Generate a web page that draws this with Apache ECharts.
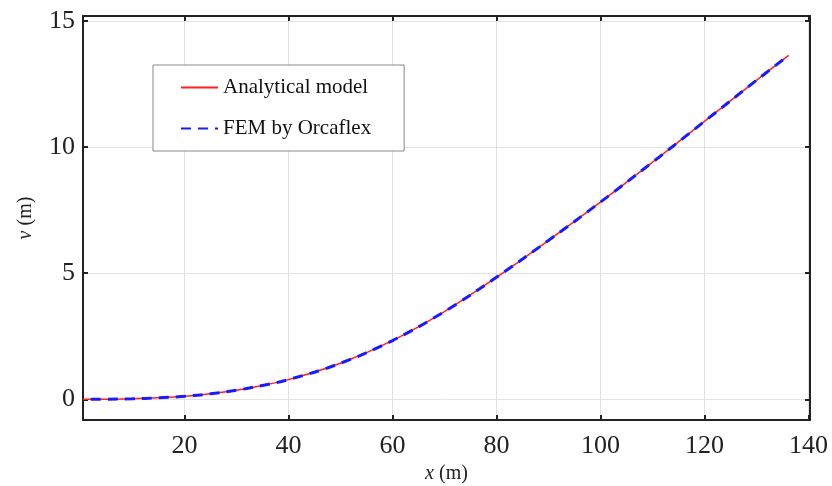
<!DOCTYPE html>
<html>
<head>
<meta charset="utf-8">
<script src="https://cdn.jsdelivr.net/npm/echarts@6/dist/echarts.min.js"></script>
<style>
  html,body{margin:0;padding:0;background:#fff;}
  #main{width:832px;height:486px;}
</style>
</head>
<body>
<div id="main"></div>
<script>
// values
let xAnalytical = [0.5, 5, 10, 15, 20, 25, 30, 35, 40, 50, 60, 70, 80, 90, 100, 110, 120, 130, 136.2];
let vAnalytical = [0, 0.005, 0.02, 0.06, 0.12, 0.22, 0.36, 0.55, 0.78, 1.43, 2.33, 3.48, 4.84, 6.3, 7.82, 9.4, 11.02, 12.65, 13.64];
let xFem = [2, 5, 10, 15, 20, 25, 30, 35, 40, 50, 60, 70, 80, 90, 100, 110, 120, 130, 135.2];
let vFem = [0, 0.005, 0.02, 0.06, 0.12, 0.22, 0.36, 0.55, 0.78, 1.43, 2.33, 3.48, 4.84, 6.3, 7.82, 9.4, 11.02, 12.65, 13.48];
let xTicks = [20, 40, 60, 80, 100, 120, 140];
let yTicks = [0, 5, 10, 15];

const serif = '"Liberation Serif", "DejaVu Serif", serif';
const ink = '#222';

function pairs(xs, ys){
  return xs.map((x,i)=>[x, ys[i]]);
}

var myChart = echarts.init(document.getElementById('main'));

function xAx(pos, labels){
  return {
    type: 'value',
    position: pos,
    min: 0.5,
    max: 140.3,
    name: labels ? '{i|x} (m)' : '',
    nameLocation: 'middle',
    nameGap: 41,
    nameTextStyle: {
      fontFamily: serif, fontSize: 20, color: ink,
      rich: {i: {fontFamily: serif, fontSize: 20, fontStyle: 'italic', color: ink}}
    },
    axisLine: {show: true, onZero: false, lineStyle: {color: ink, width: 2}},
    axisTick: {show: true, inside: true, length: 5, customValues: xTicks, lineStyle: {color: ink, width: 2}},
    axisLabel: {show: labels, customValues: xTicks, margin: 13, fontFamily: serif, fontSize: 26, color: ink},
    splitLine: {show: labels, lineStyle: {color: '#e2e2e2', width: 1}}
  };
}

function yAx(pos, labels){
  return {
    type: 'value',
    position: pos,
    min: -0.82,
    max: 15.2,
    name: labels ? '{i|v} (m)' : '',
    nameLocation: 'middle',
    nameGap: 47,
    nameTextStyle: {
      fontFamily: serif, fontSize: 20, color: ink,
      rich: {i: {fontFamily: serif, fontSize: 20, fontStyle: 'italic', color: ink}}
    },
    axisLine: {show: true, onZero: false, lineStyle: {color: ink, width: 2}},
    axisTick: {show: true, inside: true, length: 5, customValues: yTicks, lineStyle: {color: ink, width: 2}},
    axisLabel: {show: labels, customValues: yTicks, margin: 8, fontFamily: serif, fontSize: 26, color: ink},
    splitLine: {show: labels, lineStyle: {color: '#e2e2e2', width: 1}}
  };
}

option = {
  backgroundColor: '#fff',
  animation: false,
  grid: {left: 83, right: 22, top: 16, bottom: 66, containLabel: false, outerBoundsMode: 'none'},
  legend: {
    left: 153,
    top: 65,
    orient: 'vertical',
    backgroundColor: '#fff',
    borderColor: '#888',
    borderWidth: 1,
    borderRadius: 0,
    padding: [12, 33, 12, 27],
    itemWidth: 37,
    itemHeight: 14,
    itemGap: 20,
    itemStyle: {opacity: 0},
    textStyle: {fontFamily: serif, fontSize: 21, color: '#111'},
    data: ['Analytical model', 'FEM by Orcaflex']
  },
  xAxis: [xAx('bottom', true), xAx('top', false)],
  yAxis: [yAx('left', true), yAx('right', false)],
  series: [
    {
      name: 'Analytical model',
      type: 'line',
      smooth: 0.4,
      symbol: 'none',
      data: pairs(xAnalytical, vAnalytical),
      lineStyle: {color: '#ff2020', width: 1.5},
      itemStyle: {color: '#ff2020'},
      z: 2
    },
    {
      name: 'FEM by Orcaflex',
      type: 'line',
      smooth: 0.4,
      symbol: 'none',
      data: pairs(xFem, vFem),
      lineStyle: {color: '#1a1aff', width: 3, type: [10, 7]},
      itemStyle: {color: '#1a1aff'},
      z: 3
    }
  ]
};

myChart.setOption(option, true);
</script>
</body>
</html>
